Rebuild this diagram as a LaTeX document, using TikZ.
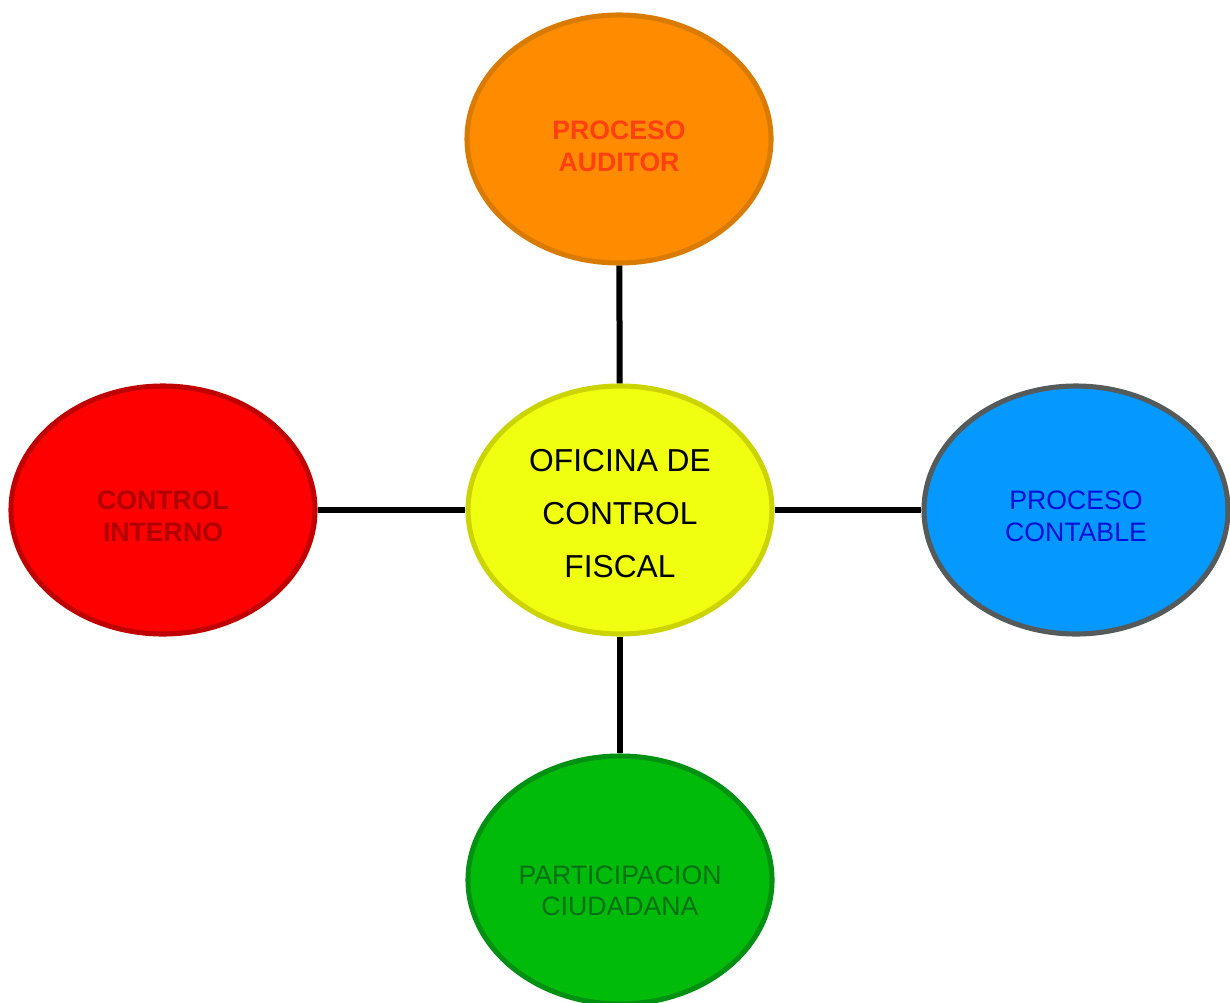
\documentclass[tikz,border=0pt]{standalone}
\usepackage{fontspec}
\setmainfont{Liberation Sans}
\usetikzlibrary{shapes.geometric}
\definecolor{naranja}{HTML}{FF8C00}
\definecolor{naranjaborde}{HTML}{D97B00}
\definecolor{naranjatexto}{HTML}{FF4010}
\definecolor{rojo}{HTML}{FF0000}
\definecolor{rojoborde}{HTML}{C00000}
\definecolor{rojotexto}{HTML}{B00000}
\definecolor{azul}{HTML}{0599FF}
\definecolor{azulborde}{HTML}{555A5A}
\definecolor{azultexto}{HTML}{0010D8}
\definecolor{verde}{HTML}{00BB0A}
\definecolor{verdeborde}{HTML}{009012}
\definecolor{verdetexto}{HTML}{007015}
\definecolor{amarillo}{HTML}{F0FF10}
\definecolor{amarilloborde}{HTML}{CCD400}
\newcommand{\bajar}[1]{\rule{0pt}{#1}}
\tikzset{
  globo/.style={ellipse, line width=3.8pt, minimum width=228pt, minimum height=186pt,
    inner sep=0pt, align=center, font=\fontsize{20}{23.5}\selectfont},
  enlace/.style={line width=4.5pt}
}
\begin{document}
\begin{tikzpicture}[x=0.75pt,y=-0.75pt]
		\useasboundingbox (0,0) rectangle (1230,1002);
		\node [globo, fill=amarillo, draw=amarilloborde, font=\fontsize{23.8}{39.4}\selectfont] (oficina) at (620,510) {\bajar{22pt}OFICINA DE\\CONTROL\\FISCAL};
		\node [globo, fill=naranja, draw=naranjaborde, text=naranjatexto, font=\fontsize{20}{23.5}\selectfont\bfseries] (auditor) at (619,139) {\bajar{25pt}PROCESO\\AUDITOR};
		\node [globo, fill=rojo, draw=rojoborde, text=rojotexto, font=\fontsize{20}{23.5}\selectfont\bfseries] (interno) at (163,510) {\bajar{23.5pt}CONTROL\\INTERNO};
		\node [globo, fill=azul, draw=azulborde, text=azultexto] (contable) at (1076,510) {\bajar{23.5pt}PROCESO\\CONTABLE};
		\node [globo, fill=verde, draw=verdeborde, text=verdetexto] (ciudadana) at (620,880) {\bajar{30pt}PARTICIPACION\\CIUDADANA};
		\draw [enlace] (oficina) -- (auditor);
		\draw [enlace] (oficina) -- (interno);
		\draw [enlace] (oficina) -- (contable);
		\draw [enlace] (oficina) -- (ciudadana);
	\end{tikzpicture}
\end{document}
